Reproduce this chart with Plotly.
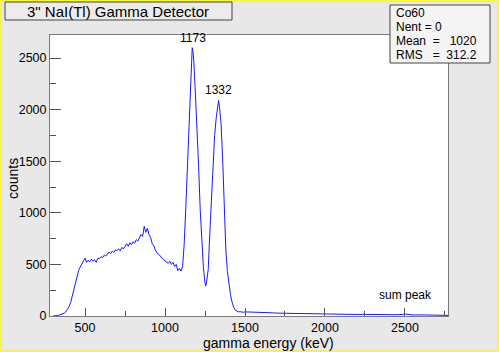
import plotly.graph_objects as go

energy_lo = [300, 310, 320, 330, 340, 350, 360, 370, 380, 390, 400, 410, 420, 430, 440, 450,
             460, 470, 480, 490, 500, 510, 520, 530, 540, 550, 560, 570, 580, 590, 600, 610,
             620, 630, 640, 650, 660, 670, 680, 690, 700, 710, 720, 730, 740, 750, 760, 770,
             780, 790, 800, 810, 820, 830, 840, 850, 860, 870, 880, 890, 900, 910, 920, 930,
             940, 950, 960, 970, 980, 990, 1000, 1010, 1020, 1030, 1040, 1050, 1060, 1070,
             1080, 1090, 1100, 1110, 1120, 1130, 1140, 1150, 1160, 1165, 1170, 1175, 1180,
             1190, 1200, 1210, 1220, 1230, 1240, 1250, 1255, 1260, 1270, 1280, 1290, 1300,
             1310, 1320, 1330, 1335, 1340, 1350, 1360, 1370, 1380, 1390, 1400, 1410, 1420,
             1430, 1440, 1450, 1460, 1470, 1480, 1490, 1500]
counts_lo = [0, 0, 2, 5, 10, 15, 20, 28, 40, 60, 90, 130, 190, 260, 330, 390,
             440, 475, 505, 525, 560, 520, 540, 525, 550, 530, 545, 520, 560, 555, 575, 565,
             590, 580, 600, 620, 605, 630, 615, 640, 635, 650, 630, 665, 650, 680, 700, 675,
             710, 690, 720, 705, 740, 725, 760, 790, 770, 870, 810, 850, 790, 760, 700, 680,
             640, 610, 600, 580, 560, 545, 535, 525, 510, 530, 500, 520, 480, 500,
             440, 460, 435, 480, 700, 1050, 1480, 1870, 2360, 2500, 2600, 2560, 2470,
             2150, 1850, 1450, 1030, 700, 470, 320, 290, 330, 450, 800, 1150, 1500,
             1750, 1920, 2060, 2090, 2030, 1870, 1530, 1100, 650, 430, 300, 200, 130,
             80, 55, 45, 40, 42, 38, 36, 40]
energy_hi = [1550, 1600, 1650, 1700, 1750, 1800, 1850, 1900, 1950, 2000, 2050, 2100, 2150,
             2200, 2250, 2300, 2350, 2400, 2450, 2505, 2550, 2600, 2650, 2700, 2750, 2770]
counts_hi = [35, 30, 32, 28, 30, 25, 24, 22, 20, 22, 18, 16, 17,
             15, 16, 14, 12, 13, 12, 18, 10, 11, 8, 9, 7, 6]

energy = energy_lo + energy_hi
counts = counts_lo + counts_hi

peak_labels = ["1173", "1332", "sum peak"]
peak_x = [1173, 1333, 2505]
peak_y = [2600, 2090, 18]

title_text = "3\" NaI(Tl) Gamma Detector"
stats_lines = ["Co60", "Nent = 0", "Mean  =   1020", "RMS   =  312.2"]
x_title = "gamma energy (keV)"
y_title = "counts"

W, H = 499, 352
L, R, T, B = 50, 448, 35, 316

font = "Liberation Sans, Arial, sans-serif"

fig = go.Figure()
fig.add_trace(go.Scatter(x=energy, y=counts, mode="lines",
                         line=dict(color="#1a1aff", width=1), showlegend=False,
                         hoverinfo="skip"))

axis_common = dict(showgrid=False, zeroline=False, showline=True, linecolor="#7a7a7a",
                   linewidth=1, mirror=True, ticks="inside", tickcolor="#555555",
                   automargin=False,
                   tickfont=dict(family=font, size=12.5, color="black"))

fig.update_xaxes(range=[281, 2769], tickvals=[500, 1000, 1500, 2000, 2500],
                 ticklen=8, tickwidth=1,
                 minor=dict(tickvals=[750, 1250, 1750, 2250, 2750], ticklen=5,
                            ticks="inside", tickcolor="#555555"),
                 **axis_common)
fig.update_yaxes(range=[0, 2723], tickvals=[0, 500, 1000, 1500, 2000, 2500],
                 ticklen=11, tickwidth=1,
                 minor=dict(tickvals=[250, 750, 1250, 1750, 2250], ticklen=6,
                            ticks="inside", tickcolor="#555555"),
                 **axis_common)


def px2paper_x(px):
    return (px - L) / (R - L)


def px2paper_y(py):
    return (B - py) / (B - T)


# peak annotations
for lab, xv, yv in zip(peak_labels, peak_x, peak_y):
    fig.add_annotation(x=xv, y=yv, text=lab, showarrow=False, xanchor="center",
                       yanchor="bottom", yshift=10 if lab == "sum peak" else 1,
                       font=dict(family=font, size=12, color="black"))

# axis titles
fig.add_annotation(xref="paper", yref="paper", x=px2paper_x(268), y=px2paper_y(342.5),
                   text=x_title, showarrow=False, xanchor="center", yanchor="middle",
                   font=dict(family=font, size=14, color="black"))
fig.add_annotation(xref="paper", yref="paper", x=px2paper_x(13), y=px2paper_y(179),
                   text=y_title, showarrow=False, xanchor="center", yanchor="middle",
                   textangle=-90, font=dict(family=font, size=14, color="black"))

shapes = []
# yellow outer border around the whole picture
shapes.append(dict(type="rect", xref="paper", yref="paper",
                   x0=px2paper_x(1), x1=px2paper_x(W - 1),
                   y0=px2paper_y(H - 1), y1=px2paper_y(1),
                   line=dict(color="#f7f34a", width=2), fillcolor="rgba(0,0,0,0)",
                   layer="above"))
# title box
shapes.append(dict(type="rect", xref="paper", yref="paper",
                   x0=px2paper_x(5), x1=px2paper_x(232), y0=px2paper_y(20), y1=px2paper_y(2),
                   line=dict(color="#444444", width=1), fillcolor="#ececec", layer="above"))
# stats box
shapes.append(dict(type="rect", xref="paper", yref="paper",
                   x0=px2paper_x(390), x1=px2paper_x(490), y0=px2paper_y(63), y1=px2paper_y(5),
                   line=dict(color="#444444", width=1), fillcolor="#f4f4f4", layer="above"))
fig.update_layout(shapes=shapes)

fig.add_annotation(xref="paper", yref="paper", x=px2paper_x(118), y=px2paper_y(11),
                   text=title_text, showarrow=False, xanchor="center", yanchor="middle",
                   font=dict(family=font, size=15, color="black"))
for i, line in enumerate(stats_lines):
    fig.add_annotation(xref="paper", yref="paper", x=px2paper_x(394), y=px2paper_y(13 + 14 * i),
                       text=line.replace(" ", "&nbsp;"), showarrow=False, xanchor="left",
                       yanchor="middle", font=dict(family=font, size=12, color="black"))

fig.update_layout(width=W, height=H, margin=dict(l=L, r=W - R, t=T, b=H - B),
                  paper_bgcolor="#e8e8e8", plot_bgcolor="white", showlegend=False)

fig.write_html("out.html")
